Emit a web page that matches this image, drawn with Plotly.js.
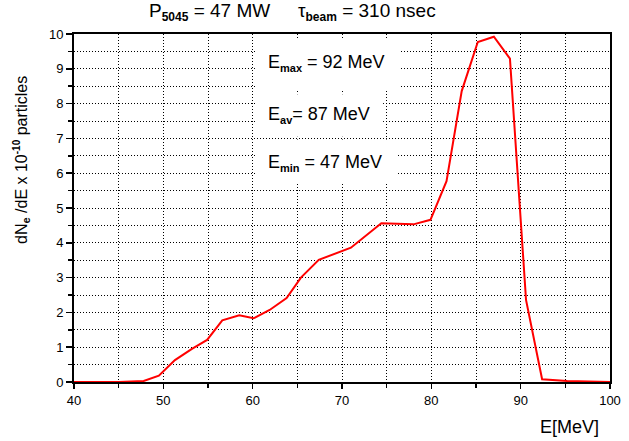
<!DOCTYPE html>
<html>
<head>
<meta charset="utf-8">
<script src="https://cdn.plot.ly/plotly-3.0.1.min.js"></script>
<style>html,body{margin:0;padding:0;background:#fff;}#chart{width:629px;height:441px;}</style>
</head>
<body>
<div id="chart"></div>
<script>
// Energy (MeV)
var energy = [40, 45, 47.8, 49.5, 51.3, 53.2, 54.9, 56.6, 58.5, 60.1, 61.9, 63.8, 65.4, 67.4, 71.0, 74.4, 78.0, 79.9, 81.7, 83.4, 85.2, 87.0, 88.8, 90.6, 92.4, 95.2, 100];
// dNe/dE x 10^-10 particles
var dNdE = [0, 0, 0.03, 0.18, 0.63, 0.95, 1.21, 1.77, 1.92, 1.83, 2.07, 2.41, 3.0, 3.51, 3.86, 4.56, 4.53, 4.66, 5.77, 8.36, 9.77, 9.92, 9.29, 2.36, 0.08, 0.03, 0];
var xTickVals = [40, 50, 60, 70, 80, 90, 100];
var yTickVals = [0, 1, 2, 3, 4, 5, 6, 7, 8, 9, 10];

function sub(s, px) { return "<sub><span style='font-size:" + px + "px'><b>" + s + "</b></span></sub>"; }
function sup(s, px) { return "<sup><span style='font-size:" + px + "px'><b>" + s + "</b></span></sup>"; }

var titleLeft = "P" + sub("5045", 12) + " = 47 MW";
var titleRight = "\u03C4" + sub("beam", 12) + " = 310 nsec";
var yTitle = "dN" + sub("e", 11) + " /dE x 10" + sup("-10", 10) + " particles";
var xTitle = "E[MeV]";
var labels = ["E" + sub("max", 11) + " = 92 MeV", "E" + sub("av", 11) + "= 87 MeV", "E" + sub("min", 11) + " = 47 MeV"];

var FONT = 'Arial, "Liberation Sans", sans-serif';
var GRID = {gridcolor: '#000', griddash: '1px,2px', gridwidth: 1};

var trace = {
  x: energy, y: dNdE, type: 'scatter', mode: 'lines',
  line: {color: '#ff0000', width: 2}, hoverinfo: 'skip'
};

function box(x0, x1, y0, y1) {
  return {type: 'rect', xref: 'x', yref: 'y', x0: x0, x1: x1, y0: y0, y1: y1,
    fillcolor: '#ffffff', line: {width: 0}, layer: 'between'};
}

var layout = {
  width: 629, height: 441,
  margin: {l: 74, r: 19, t: 34, b: 59, pad: 0},
  paper_bgcolor: '#fff', plot_bgcolor: '#fff',
  showlegend: false,
  font: {family: FONT, size: 13, color: '#000'},
  xaxis: Object.assign({
    range: [40, 100], tickvals: xTickVals, ticks: 'outside', ticklen: 5, tickwidth: 1.5,
    tickcolor: '#000', showline: true, linecolor: '#000', linewidth: 2, mirror: true,
    zeroline: false, showgrid: true, tickfont: {size: 13, family: FONT},
    minor: Object.assign({dtick: 5, tick0: 0, ticks: 'outside', ticklen: 4, tickcolor: '#000', showgrid: true}, GRID)
  }, GRID),
  yaxis: Object.assign({
    range: [0, 10], tickvals: yTickVals, ticks: 'outside', ticklen: 6, tickwidth: 1.5,
    tickcolor: '#000', showline: true, linecolor: '#000', linewidth: 2, mirror: true,
    zeroline: false, showgrid: true, tickfont: {size: 13, family: FONT},
    minor: Object.assign({dtick: 0.5, tick0: 0, ticks: 'outside', ticklen: 4, tickcolor: '#000', showgrid: true}, GRID)
  }, GRID),
  shapes: [
    box(60.3, 76.5, 8.4, 9.85),
    box(60.3, 74.6, 7.05, 8.27),
    box(60.3, 76.1, 5.7, 6.97)
  ],
  annotations: [
    {text: titleLeft, xref: 'paper', yref: 'paper', x: 0.1362, y: 1.063, xanchor: 'left', yanchor: 'middle', showarrow: false, font: {size: 19, family: FONT}},
    {text: titleRight, xref: 'paper', yref: 'paper', x: 0.414, y: 1.063, xanchor: 'left', yanchor: 'middle', showarrow: false, font: {size: 19, family: FONT}},
    {text: yTitle, xref: 'paper', yref: 'paper', x: -0.097, y: 0.638, xanchor: 'center', yanchor: 'middle', textangle: -90, showarrow: false, font: {size: 16, family: FONT}},
    {text: xTitle, xref: 'paper', yref: 'paper', x: 0.983, y: -0.129, xanchor: 'right', yanchor: 'middle', showarrow: false, font: {size: 18, family: FONT}},
    {text: labels[0], xref: 'x', yref: 'y', x: 61.5, y: 9.16, xanchor: 'left', yanchor: 'middle', showarrow: false, font: {size: 18, family: FONT}},
    {text: labels[1], xref: 'x', yref: 'y', x: 61.5, y: 7.67, xanchor: 'left', yanchor: 'middle', showarrow: false, font: {size: 18, family: FONT}},
    {text: labels[2], xref: 'x', yref: 'y', x: 61.5, y: 6.29, xanchor: 'left', yanchor: 'middle', showarrow: false, font: {size: 18, family: FONT}}
  ]
};

Plotly.newPlot('chart', [trace], layout, {staticPlot: true, displayModeBar: false});
</script>
</body>
</html>
